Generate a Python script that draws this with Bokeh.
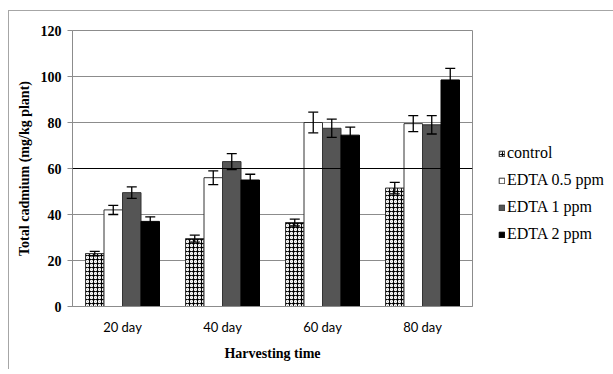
from bokeh.plotting import figure
from bokeh.layouts import column
from bokeh.models import ColumnDataSource, Whisker, Legend, LegendItem, Span, FixedTicker
from bokeh.transform import dodge
from bokeh.embed import file_html
from bokeh.resources import INLINE

days = ["20 day", "40 day", "60 day", "80 day"]
series = ["control", "EDTA 0.5 ppm", "EDTA 1 ppm", "EDTA 2 ppm"]
control = [23.0, 29.5, 36.5, 51.5]
edta05 = [42.0, 56.0, 80.0, 79.5]
edta1 = [49.5, 63.0, 77.5, 79.0]
edta2 = [37.0, 55.0, 74.5, 98.5]
err_control = [1.0, 1.5, 1.5, 2.5]
err_edta05 = [2.0, 3.0, 4.5, 3.5]
err_edta1 = [2.5, 3.5, 4.0, 4.0]
err_edta2 = [2.0, 2.5, 3.5, 5.0]
y_ticks = [0, 20, 40, 60, 80, 100, 120]

values = [control, edta05, edta1, edta2]
errors = [err_control, err_edta05, err_edta1, err_edta2]

p = figure(x_range=days, y_range=(0, 120), width=600, height=358,
           frame_width=400, frame_height=276,
           min_border_left=63, min_border_right=137, min_border_top=19, min_border_bottom=63,
           output_backend="svg", toolbar_location=None)

p.outline_line_color = "#8c8c8c"
p.outline_line_width = 1
p.xgrid.grid_line_color = None
p.ygrid.grid_line_color = "#8c8c8c"
p.ygrid.ticker = FixedTicker(ticks=[20, 40, 80, 100, 120])
p.yaxis.ticker = FixedTicker(ticks=y_ticks)
p.add_layout(Span(location=60, dimension="width", line_color="black", line_width=1.2))

width = 0.185
offsets = [-1.5 * width, -0.5 * width, 0.5 * width, 1.5 * width]
styles = [
    dict(fill_color="black", line_color="#333333", hatch_pattern="ring", hatch_color="white",
         hatch_scale=4, hatch_weight=1.3),
    dict(fill_color="white", line_color="#333333"),
    dict(fill_color="#555555", line_color="#333333"),
    dict(fill_color="black", line_color="black"),
]

items = []
for name, vals, errs, off, st in zip(series, values, errors, offsets, styles):
    src = ColumnDataSource(dict(day=days, v=vals,
                                lo=[a - b for a, b in zip(vals, errs)],
                                hi=[a + b for a, b in zip(vals, errs)]))
    r = p.vbar(x=dodge("day", off, range=p.x_range), top="v", width=width, source=src,
               line_width=1, **st)
    w = Whisker(base=dodge("day", off, range=p.x_range), lower="lo", upper="hi", source=src,
                line_color="black", line_width=1.3, level="overlay")
    w.upper_head.size = 10
    w.lower_head.size = 10
    w.upper_head.line_width = 1.3
    w.lower_head.line_width = 1.3
    p.add_layout(w)
    items.append(LegendItem(label=name, renderers=[r]))

legend = Legend(items=items, location=(26, 63), orientation="vertical",
                glyph_width=7, glyph_height=7, label_standoff=2,
                label_text_font="Liberation Serif", label_text_font_size="16px",
                label_text_color="black",
                label_height=16, spacing=9, padding=0, margin=0,
                border_line_color=None, background_fill_alpha=0)
p.add_layout(legend, "right")

p.yaxis.axis_label = "Total cadmium (mg/kg plant)"
p.xaxis.axis_label = "Harvesting time"
for ax in (p.xaxis, p.yaxis):
    ax.axis_label_text_font = "Liberation Serif"
    ax.axis_label_text_font_style = "bold"
    ax.axis_label_text_font_size = "14px"
    ax.axis_label_text_color = "black"
    ax.major_label_text_color = "black"
    ax.axis_line_color = "#8c8c8c"
    ax.major_tick_line_color = "#8c8c8c"
    ax.minor_tick_line_color = None
p.yaxis.major_label_text_font = "Liberation Serif"
p.yaxis.major_label_text_font_style = "bold"
p.yaxis.major_label_text_font_size = "14px"
p.yaxis.major_tick_out = 5
p.yaxis.major_tick_in = 0
p.yaxis.major_label_standoff = 6
p.yaxis.axis_label_standoff = 6
p.xaxis.major_label_text_font = "Lato"
p.xaxis.major_label_text_font_size = "13px"
p.xaxis.major_tick_line_color = None
p.xaxis.major_label_standoff = 6
p.xaxis.axis_label_standoff = 8

page = column(p, margin=(10, 0, 0, 8),
              styles={"border-left": "1px solid #a6a6a6", "border-top": "1px solid #a6a6a6",
                      "overflow": "visible"})

open("out.html", "w").write(file_html(page, INLINE))
